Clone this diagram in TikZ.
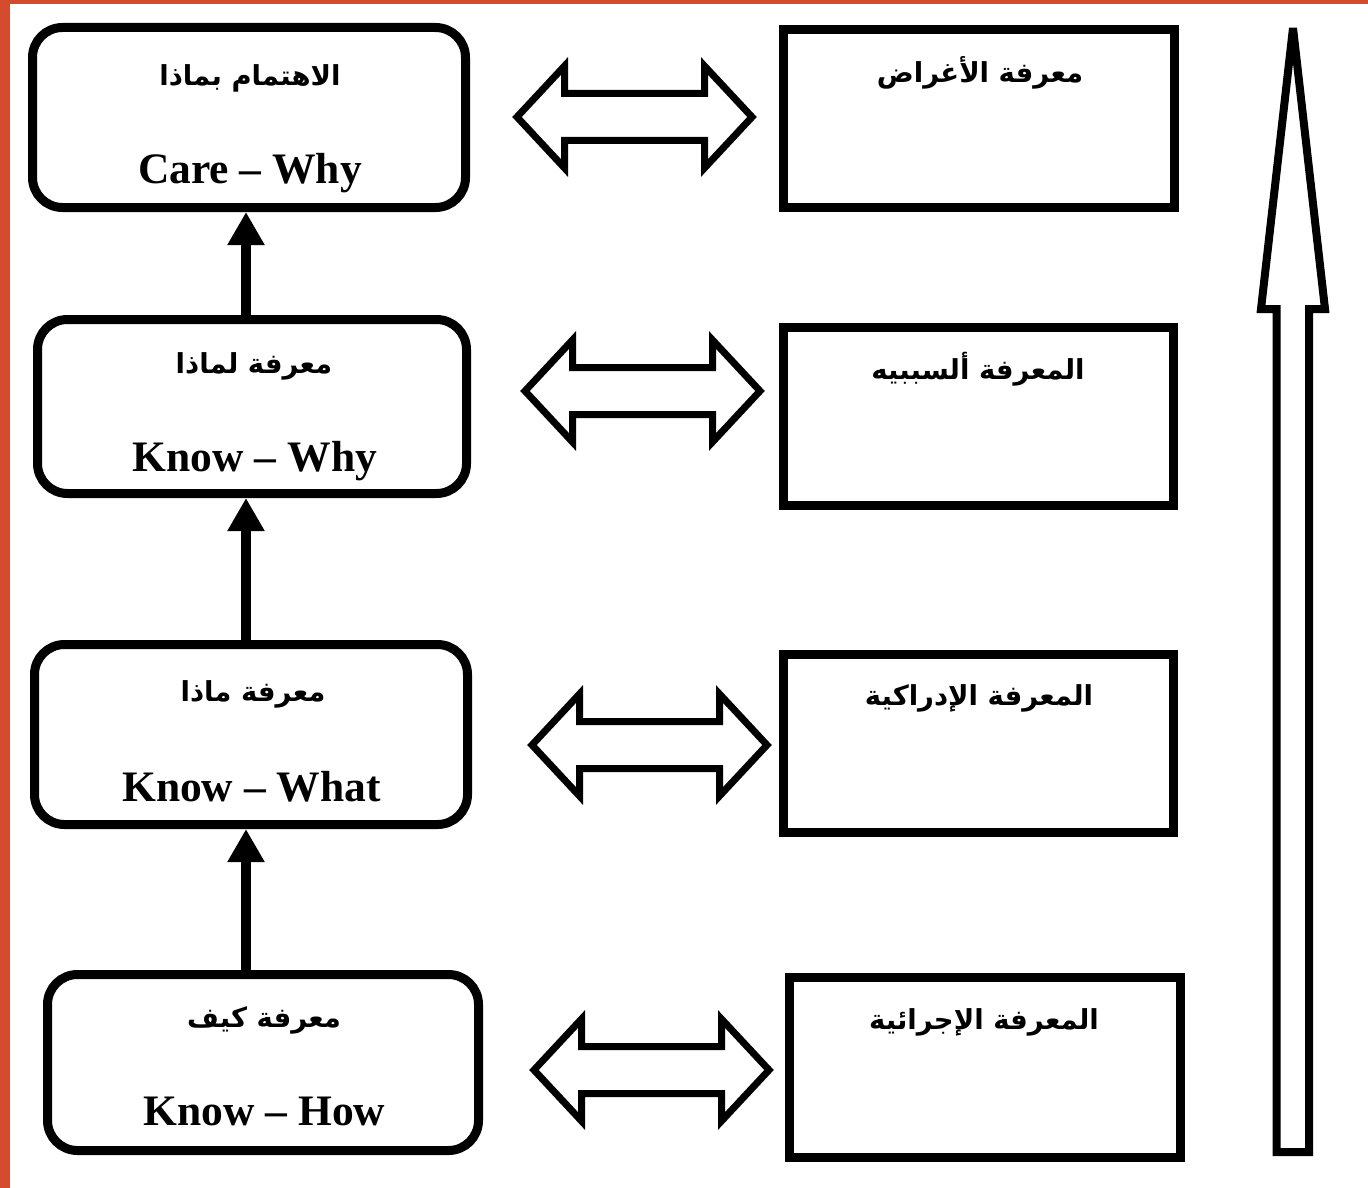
\documentclass[tikz,border=0pt]{standalone}
\usepackage{fontspec}
\setmainfont{Liberation Serif}
\newfontfamily\arabicfont[Script=Arabic]{DejaVu Sans}
\TeXXeTstate=1
\usetikzlibrary{arrows.meta}
\definecolor{frameorange}{RGB}{212,75,45}

\begin{document}
\begin{tikzpicture}[x=1pt,y=-1pt,
  level/.style={draw, line width=9pt, rounded corners=30pt, inner sep=0pt},
  kind/.style={draw, line width=9pt, inner sep=0pt},
  entext/.style={font=\bfseries\fontsize{43.5}{50}\selectfont, inner sep=0pt, anchor=base},
  artext/.style={font=\arabicfont\bfseries\fontsize{27.5}{33}\selectfont, inner sep=0pt},
  climb/.style={line width=10pt, -{Triangle[width=35pt,length=33pt]}},
  link/.style={line width=7pt, line join=miter},
  scale arrow/.style={line width=8pt, line join=miter, miter limit=5}]

% page and frame
\useasboundingbox (0,0) rectangle (1368,1188);
\fill[white] (0,0) rectangle (1368,1188);
\fill[frameorange] (0,0) rectangle (1368,4);
\fill[frameorange] (0,0) rectangle (10,1188);

% left column: levels of knowing
\node[level, minimum width=433pt, minimum height=180pt] (L1) at (249,117.5) {};
\node[level, minimum width=429pt, minimum height=174pt] (L2) at (252,406.5) {};
\node[level, minimum width=433pt, minimum height=180pt] (L3) at (251,734.5) {};
\node[level, minimum width=431pt, minimum height=176pt] (L4) at (263,1062.5) {};

\node[artext] (L1a) at (250,78) {\beginR الاهتمام بماذا\endR};
\node[entext] (L1e) at (250,183) {Care – Why};
\node[artext] (L2a) at (254,366) {\beginR معرفة لماذا\endR};
\node[entext] (L2e) at (255,471) {Know – Why};
\node[artext] (L3a) at (253,694) {\beginR معرفة ماذا\endR};
\node[entext] (L3e) at (251.5,801) {Know – What};
\node[artext] (L4a) at (264,1020) {\beginR معرفة كيف\endR};
\node[entext] (L4e) at (264.5,1125) {Know – How};

% right column: kinds of knowledge
\node[kind, minimum width=391pt, minimum height=178pt] (R1) at (979,118.5) {};
\node[kind, minimum width=390pt, minimum height=178pt] (R2) at (978.5,416.5) {};
\node[kind, minimum width=390pt, minimum height=178pt] (R3) at (978.5,743.5) {};
\node[kind, minimum width=391pt, minimum height=180pt] (R4) at (985,1067.5) {};

\node[artext] (R1a) at (980,73) {\beginR معرفة الأغراض\endR};
\node[artext] (R2a) at (978,369) {\beginR المعرفة ألسببيه\endR};
\node[artext] (R3a) at (979,698) {\beginR المعرفة الإدراكية\endR};
\node[artext] (R4a) at (984,1022) {\beginR المعرفة الإجرائية\endR};

% upward links between levels
\coordinate (axis) at (246,0);
\draw[climb] (L2.north -| axis) -- (L1.south -| axis);
\draw[climb] (L3.north -| axis) -- (L2.south -| axis);
\draw[climb] (L4.north -| axis) -- (L3.south -| axis);

% two-headed block arrows between the columns
\coordinate (d1) at (634.5,117);
\coordinate (d2) at (642.5,391);
\coordinate (d3) at (649.5,745);
\coordinate (d4) at (651.5,1070);
\foreach \c in {d1,d2,d3,d4}{
  \draw[link, shift={(\c)}]
    (-117.5,0) -- (-70,-51) -- (-70,-23.5) -- (70,-23.5) -- (70,-51)
    -- (117.5,0) -- (70,51) -- (70,23.5) -- (-70,23.5) -- (-70,51) -- cycle;
}

% tall hollow arrow on the right
\draw[scale arrow] (1293,28) -- (1325,309) -- (1309,309) -- (1309,1152)
  -- (1276.7,1152) -- (1276.7,309) -- (1261,309) -- cycle;
\end{tikzpicture}
\end{document}
